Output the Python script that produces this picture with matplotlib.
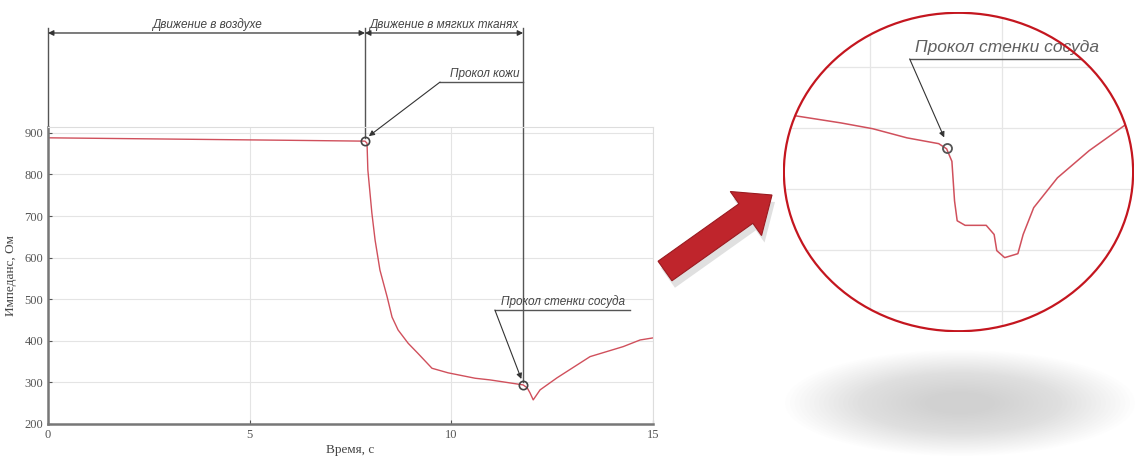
import matplotlib
matplotlib.use("Agg")
import matplotlib.pyplot as plt
from matplotlib.patches import Ellipse, FancyArrow

# main record: time (s) and impedance (Ohm)
t_main = [0, 2, 4, 6, 7.86, 7.91, 7.93, 8.03, 8.11, 8.23, 8.41, 8.53, 8.68, 8.93,
          9.17, 9.52, 9.92, 10.59, 10.96, 11.78, 11.88, 11.95, 12.03, 12.2,
          12.62, 13.44, 14.26, 14.68, 15.0]
z_main = [888, 886, 884, 882, 880, 875, 811, 707, 642, 570, 505, 457, 426, 394,
          370, 334, 323, 310, 306, 294, 287, 275, 258, 282,
          311, 362, 386, 402, 407]

# magnified piece around the vessel wall puncture
t_zoom = [11.17, 11.22, 11.39, 11.51, 11.64, 11.76, 11.79, 11.81, 11.82, 11.83,
          11.86, 11.94, 11.97, 11.98, 12.01, 12.06, 12.08, 12.12, 12.21, 12.33, 12.5]
z_zoom = [305, 303.9, 301.6, 299.7, 296.7, 294.8, 293.1, 289, 276, 269.5,
          268, 268, 265, 259.7, 257.4, 258.7, 265, 273.8, 283.6, 292.5, 303]

x_ticks = [0, 5, 10, 15]
y_ticks = [200, 300, 400, 500, 600, 700, 800, 900]
skin_t, skin_z = 7.86, 880
vessel_t, vessel_z = 11.78, 294

line_col = '#d0505c'
ann_col = '#555555'
ann_font = dict(family=['Liberation Sans Narrow', 'Liberation Sans', 'DejaVu Sans'],
                style='italic', color='#444444')

fig = plt.figure(figsize=(11.35, 4.59), dpi=100)

# ---- main chart ----
ax = fig.add_axes([48/1135, 35/459, 605/1135, 297/459])
ax.plot(t_main, z_main, color=line_col, lw=1.0)
ax.plot([skin_t, vessel_t], [skin_z, vessel_z], 'o', ms=6, mfc='none', mec='#444444', mew=1.2, zorder=5)
ax.set_xlim(0, 15)
ax.set_ylim(200, 914)
ax.set_xticks(x_ticks)
ax.set_yticks(y_ticks)
ax.grid(color='#e4e4e4', lw=0.8)
ax.tick_params(direction='in', length=3, labelsize=9, colors='#555555')
for lab in ax.get_xticklabels() + ax.get_yticklabels():
    lab.set_family('Liberation Serif')
for s in ['left', 'bottom']:
    ax.spines[s].set_color('#777777')
    ax.spines[s].set_linewidth(1.8)
for s in ['right', 'top']:
    ax.spines[s].set_color('#dddddd')
    ax.spines[s].set_linewidth(0.8)
ax.set_xlabel('Время, с', family='Liberation Serif', fontsize=9.5, color='#444444', labelpad=2)
ax.set_ylabel('Импеданс, Ом', family='Liberation Serif', fontsize=9.5, color='#444444', labelpad=5)

# dimension lines above the chart
dim_y = 1140
for x0, y1 in [(0, 914), (skin_t, skin_z + 8), (vessel_t, vessel_z + 8)]:
    ax.plot([x0, x0], [dim_y + 12, y1], color=ann_col, lw=1.0, clip_on=False)
for x0, x1, txt in [(0, skin_t, 'Движение в воздухе'), (skin_t, vessel_t, 'Движение в мягких тканях')]:
    ax.annotate('', xy=(x0, dim_y), xytext=(x1, dim_y), annotation_clip=False,
                arrowprops=dict(arrowstyle='<|-|>', color='#333333', lw=0.9,
                                mutation_scale=8, shrinkA=0, shrinkB=0))
    ax.text((x0 + x1) / 2, dim_y + 5, txt, ha='center', va='bottom', fontsize=8.5,
            clip_on=False, **ann_font)

# leader: skin puncture
ax.plot([9.72, vessel_t], [1022, 1022], color=ann_col, lw=1.0, clip_on=False)
ax.annotate('', xy=(skin_t + 0.04, skin_z + 8), xytext=(9.72, 1022), annotation_clip=False,
            arrowprops=dict(arrowstyle='-|>', color='#333333', lw=0.8, mutation_scale=8, shrinkA=0, shrinkB=2))
ax.text(10.84, 1027, 'Прокол кожи', ha='center', va='bottom', fontsize=8.5, clip_on=False, **ann_font)

# leader: vessel wall puncture
ax.plot([11.08, 14.43], [474, 474], color=ann_col, lw=1.0)
ax.annotate('', xy=(vessel_t - 0.02, vessel_z + 8), xytext=(11.08, 474),
            arrowprops=dict(arrowstyle='-|>', color='#333333', lw=0.8, mutation_scale=8, shrinkA=0, shrinkB=2))
ax.text(12.78, 479, 'Прокол стенки сосуда', ha='center', va='bottom', fontsize=8.5, **ann_font)

# ---- magnified view in a circle ----
az = fig.add_axes([783/1135, 127/459, 351/1135, 320/459])
az.set_xlim(11.17, 12.5)
az.set_ylim(233, 338)
az.axis('off')
ell = Ellipse((0.5, 0.5), 0.995, 0.995, transform=az.transAxes, fill=False,
              ec='#c4161f', lw=1.6, zorder=10)
az.add_patch(ell)
clip = Ellipse((0.5, 0.5), 0.995, 0.995, transform=az.transAxes, fc='none', ec='none')
az.add_patch(clip)
for gx in [11.5, 12.0]:
    az.axvline(gx, color='#e6e6e6', lw=0.9).set_clip_path(clip)
for gy in [240, 260, 280, 300, 320]:
    az.axhline(gy, color='#e6e6e6', lw=0.9).set_clip_path(clip)
zl, = az.plot(t_zoom, z_zoom, color=line_col, lw=1.1)
zl.set_clip_path(clip)
az.plot([vessel_t + 0.01], [vessel_z - 0.5], 'o', ms=6.5, mfc='none', mec='#555555', mew=1.3)
ul, = az.plot([11.65, 12.6], [322.6, 322.6], color=ann_col, lw=1.0)
ul.set_clip_path(clip)
az.annotate('', xy=(vessel_t + 0.005, vessel_z + 2), xytext=(11.65, 322.6),
            arrowprops=dict(arrowstyle='-|>', color='#333333', lw=0.8, mutation_scale=8, shrinkA=0, shrinkB=2))
zt = az.text(11.67, 324, 'Прокол стенки сосуда', ha='left', va='bottom', fontsize=12.5,
             family=ann_font['family'], style='italic', color='#606060')
zt.set_clip_path(clip)

# ---- decorations in pixel space: pointer arrow and shadow ----
ov = fig.add_axes([0, 0, 1, 1])
ov.set_xlim(0, 1135)
ov.set_ylim(459, 0)
ov.axis('off')
for k in range(30):
    f = 1 - k / 30
    ov.add_patch(Ellipse((960, 403), 60 + 290 * f, 18 + 88 * f, fc='#8a8a8a', ec='none', alpha=0.012))
ov.add_patch(FancyArrow(668, 278, 107, -76, width=24, head_width=54, head_length=32,
                        length_includes_head=True, fc='#999999', ec='none', alpha=0.3))
ov.add_patch(FancyArrow(665, 271, 107, -76, width=24, head_width=54, head_length=32,
                        length_includes_head=True, fc='#bf252c', ec='#9a1a20', lw=0.8))

fig.savefig('out.png', dpi=100)
